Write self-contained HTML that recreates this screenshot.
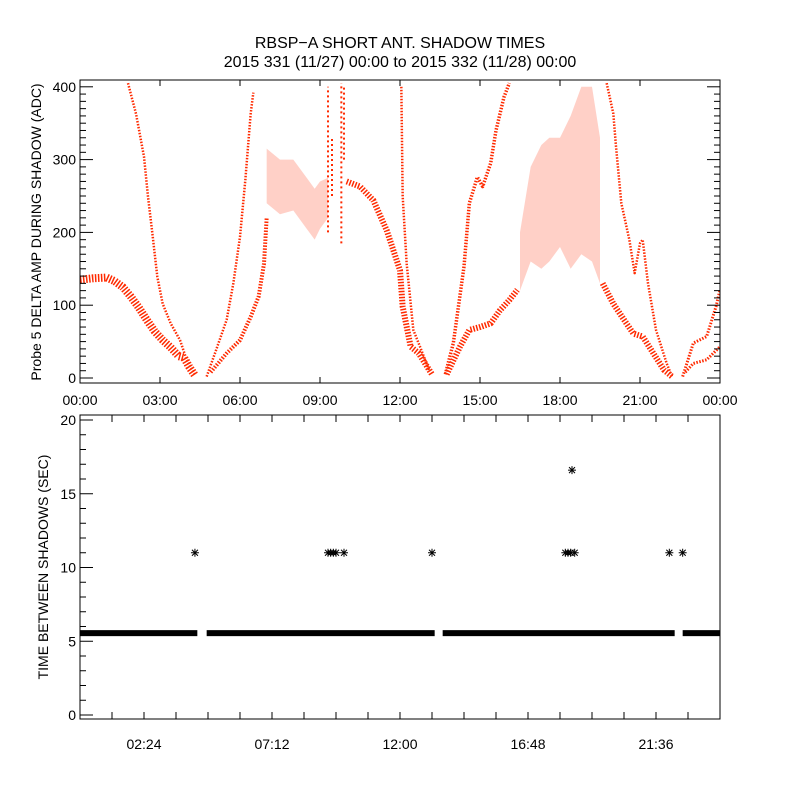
<!DOCTYPE html>
<html><head><meta charset="utf-8"><style>
body{margin:0;background:#fff}
svg{display:block;font-family:"Liberation Sans",sans-serif}
</style></head><body>
<svg id="c" width="800" height="800" viewBox="0 0 800 800">
<rect width="800" height="800" fill="#fff"/>
<text x="400" y="48" font-size="16" text-anchor="middle">RBSP−A SHORT ANT. SHADOW TIMES</text>
<text x="400" y="67" font-size="16" text-anchor="middle">2015 331 (11/27) 00:00 to 2015 332 (11/28) 00:00</text>
<defs><clipPath id="clipT"><rect x="80" y="80" width="640" height="303"/></clipPath></defs>
<g id="topPanel"></g>
<g id="botPanel"></g>
<text transform="translate(41,232) rotate(-90)" font-size="14" text-anchor="middle">Probe 5 DELTA AMP DURING SHADOW (ADC)</text>
<text transform="translate(48,567) rotate(-90)" font-size="14" text-anchor="middle">TIME BETWEEN SHADOWS (SEC)</text>
</svg>
<script>
// ---- top panel data: [hour, ADC] ----
const bandA=[[0,135],[0.5,137],[1.0,138],[1.3,133],[1.6,125],[1.9,112],[2.2,97],[2.5,80],[2.8,64],[3.1,52],[3.4,42],[3.7,30],[3.9,28],[4.1,15],[4.3,4]];
const bandB=[[1.8,405],[2.1,363],[2.4,304],[2.55,249],[2.7,203],[2.9,139],[3.1,102],[3.4,75],[3.75,52],[4.0,25],[4.3,5]];
const bandC=[[4.75,2],[5.1,38],[5.5,80],[5.75,130],[6.0,194],[6.2,272],[6.4,363],[6.5,392]];
const bandD=[[4.9,8],[5.5,34],[6.0,52],[6.4,84],[6.7,112],[6.9,157],[7.0,220]];
const cloudE_hi=[[7.0,315],[7.5,300],[8.0,300],[8.5,275],[8.8,260],[9.0,270],[9.3,275]];
const cloudE_lo=[[7.0,240],[7.5,225],[8.0,230],[8.5,205],[8.8,190],[9.0,205],[9.3,220]];
const streakF=[[9.3,200],[9.3,400],[9.45,250],[9.45,330],[9.8,185],[9.8,405],[9.9,300],[9.9,400]];
const bandG=[[10.0,270],[10.5,263],[11.0,244],[11.5,203],[12.0,148],[12.1,98],[12.4,43],[12.7,34],[13.2,5]];
const bandG2=[[12.05,400],[12.1,250],[12.25,157],[12.5,66],[12.75,43],[13.1,10]];
const bandH=[[13.7,5],[14.0,48],[14.4,153],[14.6,240],[14.9,276],[15.1,263],[15.4,295],[15.6,340],[15.9,386],[16.1,405]];
const bandI=[[13.75,5],[14.25,43],[14.6,66],[15.0,70],[15.4,75],[15.75,93],[16.1,107],[16.4,121]];
const cloudJ_hi=[[16.5,200],[16.9,290],[17.3,320],[17.6,330],[18.0,330],[18.4,360],[18.8,400],[19.2,400],[19.5,330]];
const cloudJ_lo=[[16.5,120],[16.9,160],[17.3,150],[17.6,160],[18.0,180],[18.4,150],[18.8,170],[19.2,160],[19.5,130]];
const bandK=[[19.75,405],[20.0,363],[20.1,318],[20.3,240],[20.6,190],[20.8,144],[21.0,185],[21.1,190],[21.3,130],[21.6,66],[22.0,20],[22.2,2]];
const bandL=[[19.6,130],[20.0,102],[20.4,80],[20.75,61],[21.1,57],[21.5,34],[21.9,11],[22.2,2]];
const bandM=[[22.6,2],[23.0,48],[23.5,57],[23.85,98],[24.0,121]];
const bandN=[[22.7,8],[23.0,20],[23.5,25],[24.0,43]];
const topXTicks=["00:00","03:00","06:00","09:00","12:00","15:00","18:00","21:00","00:00"];
const topYTicks=[0,100,200,300,400];
// ---- bottom panel data ----
const mainSegs=[[0,4.4],[4.75,13.3],[13.6,22.3],[22.6,24]];
const mainVal=5.55;
const outHours=[4.31,9.3,9.4,9.5,9.6,9.9,13.2,18.2,18.3,18.4,18.55,22.1,22.6];
const outVals=[11,11,11,11,11,11,11,11,11,11,11,11,11];
const spikeHours=[18.45];
const spikeVals=[16.6];
const botXTicks=["02:24","07:12","12:00","16:48","21:36"];
const botYTicks=[0,5,10,15,20];

const NS="http://www.w3.org/2000/svg";
const xT=h=>80+h*640/24, yT=v=>378-v*0.728;
const yB=v=>715-v*14.75;
function mk(tag,attrs,parent){const e=document.createElementNS(NS,tag);for(const k in attrs)e.setAttribute(k,attrs[k]);parent.appendChild(e);return e;}
const topG=document.getElementById('topPanel'), botG=document.getElementById('botPanel');
const dataG=mk('g',{'clip-path':'url(#clipT)'},topG);


function band(arr,w,name){const p=mk('polyline',{points:arr.map(d=>xT(d[0])+','+yT(d[1])).join(' '),fill:'none',stroke:'#ff2a00','stroke-width':w,'stroke-linejoin':'round','stroke-dasharray':'1.5 1.5'},dataG);

}
function cloud(hi,lo,name){const pts=hi.concat(lo.slice().reverse()).map(d=>xT(d[0])+','+yT(d[1])).join(' ');
const p=mk('polygon',{points:pts,fill:'#ff2a00','fill-opacity':0.22},dataG);

}
band(bandA,8,'series-a');band(bandB,2.5,'series-b');band(bandC,2.5,'series-c');band(bandD,4,'series-d');
cloud(cloudE_hi,cloudE_lo,'cloud-e');
for(let i=0;i<streakF.length;i+=2){const l=mk('line',{x1:xT(streakF[i][0]),y1:yT(streakF[i][1]),x2:xT(streakF[i+1][0]),y2:yT(streakF[i+1][1]),stroke:'#ff2a00','stroke-width':2,'stroke-dasharray':'2 3'},dataG);

}
band(bandG,6,'series-g');band(bandG2,2.5,'series-g2');band(bandH,3.5,'series-h');band(bandI,6,'series-i');
cloud(cloudJ_hi,cloudJ_lo,'cloud-j');
band(bandK,2.5,'series-k');band(bandL,6,'series-l');band(bandM,3,'series-m');band(bandN,3,'series-n');
// top axes
const fr=mk('rect',{x:80,y:80,width:640,height:303,fill:'none',stroke:'#000','stroke-width':1},topG);


for(let v=0;v<=400;v+=10){const y=yT(v),L=v%100===0?13:6;
mk('line',{x1:80,y1:y,x2:80+L,y2:y,stroke:'#000'},topG);mk('line',{x1:720,y1:y,x2:720-L,y2:y,stroke:'#000'},topG);}
topYTicks.forEach(v=>{const t=mk('text',{x:76,y:yT(v)+5,'font-size':14,'text-anchor':'end'},topG);t.textContent=v;

});
topXTicks.forEach((s,i)=>{const x=xT(i*3);mk('line',{x1:x,y1:383,x2:x,y2:377,stroke:'#000'},topG);mk('line',{x1:x,y1:80,x2:x,y2:86,stroke:'#000'},topG);
const t=mk('text',{x:x,y:405,'font-size':14,'text-anchor':'middle'},topG);t.textContent=s;

});
// bottom
mainSegs.forEach(s=>{const r=mk('rect',{x:xT(s[0]),y:yB(mainVal)-3,width:xT(s[1])-xT(s[0]),height:6,fill:'#000'},botG);

});
function star(h,v){const g=mk('g',{stroke:'#000','stroke-width':1},botG);const x=xT(h),y=yB(v);
mk('line',{x1:x-4,y1:y,x2:x+4,y2:y},g);mk('line',{x1:x,y1:y-4,x2:x,y2:y+4},g);mk('line',{x1:x-3,y1:y-3,x2:x+3,y2:y+3},g);mk('line',{x1:x-3,y1:y+3,x2:x+3,y2:y-3},g);

}
outHours.forEach((h,i)=>star(h,outVals[i]));
spikeHours.forEach((h,i)=>star(h,spikeVals[i]));
const fb=mk('rect',{x:80,y:415,width:640,height:304,fill:'none',stroke:'#000'},botG);


for(let v=0;v<=20;v++){const y=yB(v),L=v%5===0?13:6;mk('line',{x1:80,y1:y,x2:80+L,y2:y,stroke:'#000'},botG);}
botYTicks.forEach(v=>{const t=mk('text',{x:76,y:yB(v)+5,'font-size':14,'text-anchor':'end'},botG);t.textContent=v;

});
for(let k=1;k<20;k++){const x=xT(k*1.2);mk('line',{x1:x,y1:719,x2:x,y2:712,stroke:'#000'},botG);mk('line',{x1:x,y1:415,x2:x,y2:422,stroke:'#000'},botG);}
botXTicks.forEach((s,i)=>{const t=mk('text',{x:xT(2.4+i*4.8),y:749,'font-size':14,'text-anchor':'middle'},botG);t.textContent=s;

});
</script>
</body></html>
